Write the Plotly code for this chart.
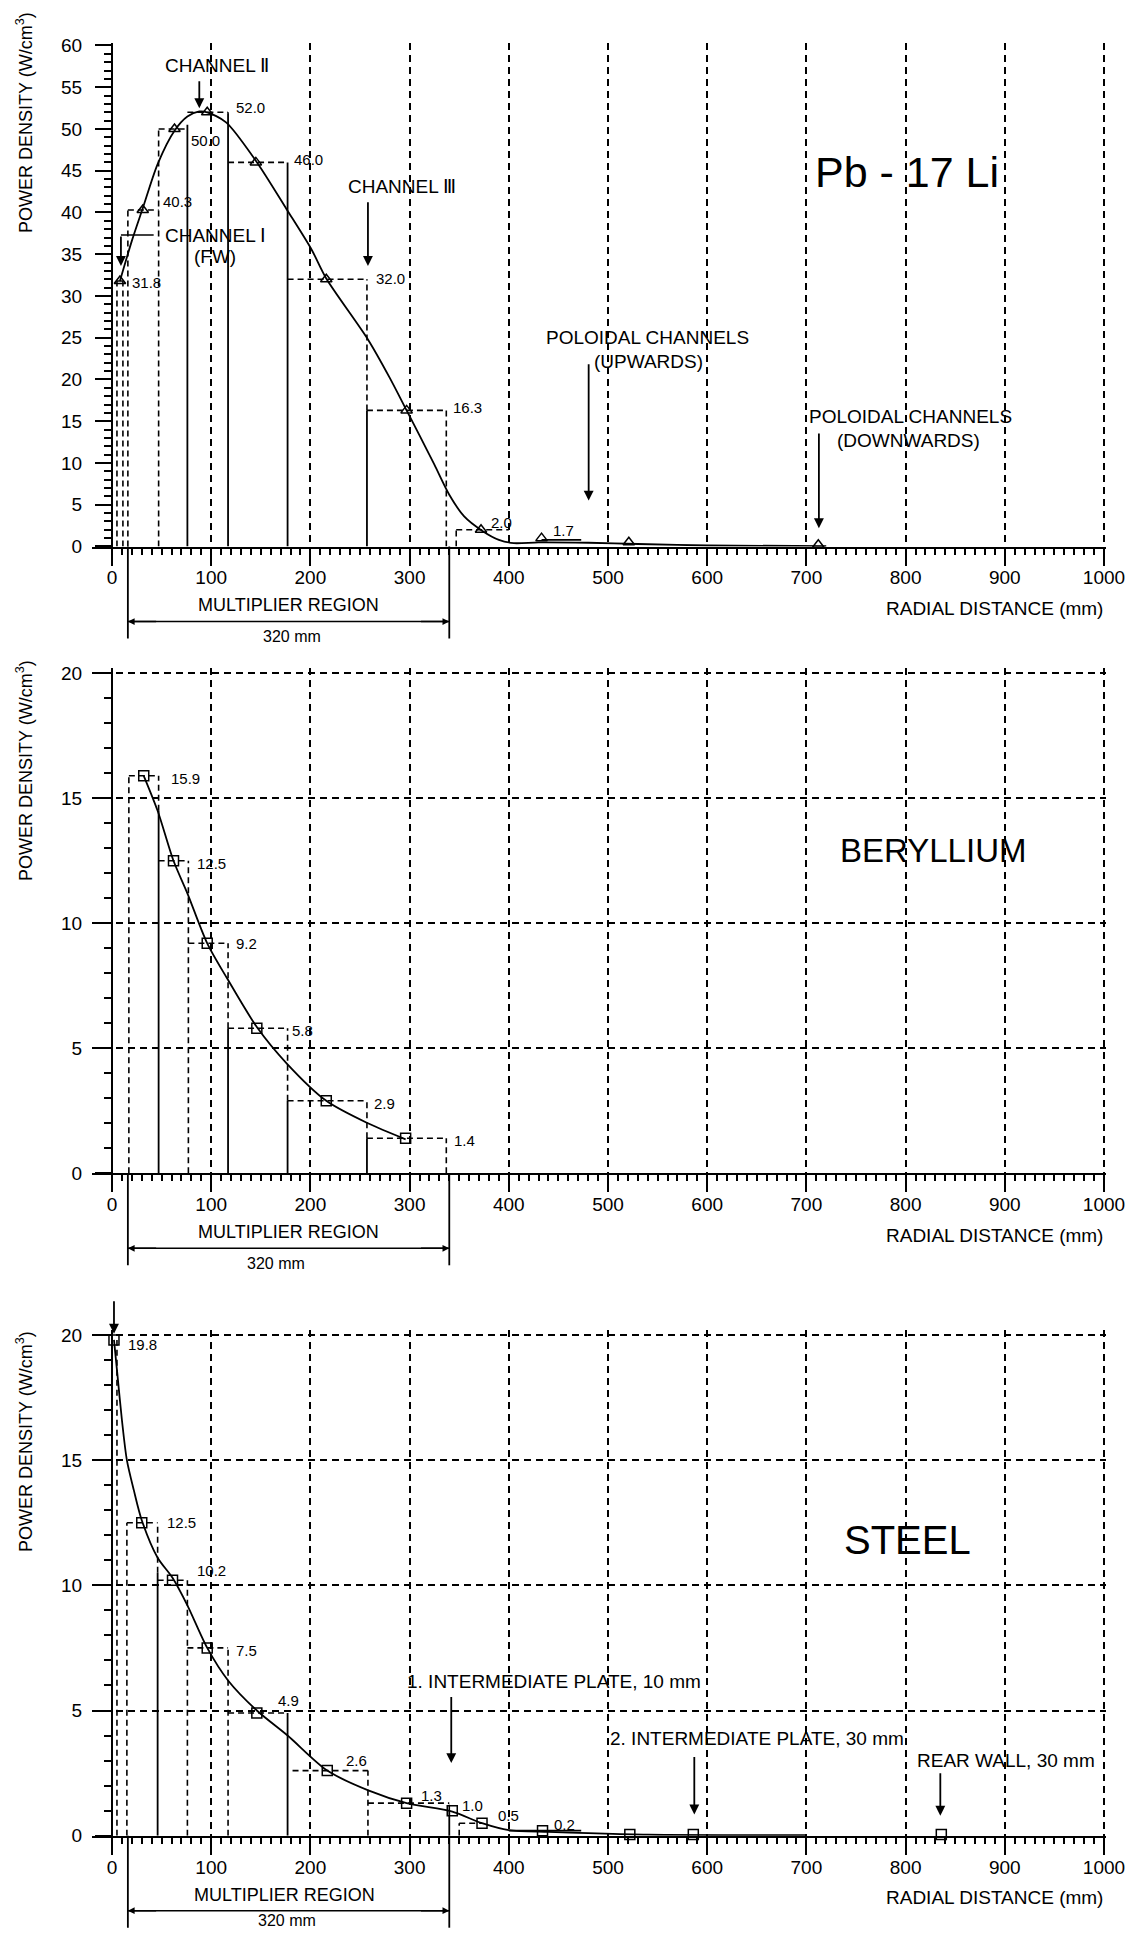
import plotly.graph_objects as go

# ---------------- DATA ----------------
# Panel 1 : Pb-17Li
pb_pts_x = [8, 31, 63, 96, 145, 216, 297, 372, 433, 521, 712]
pb_pts_y = [31.8, 40.3, 50.0, 52.0, 46.0, 32.0, 16.3, 2.0, 1.0, 0.5, 0.2]
pb_curve_x = [8, 20, 31, 46, 63, 76, 88, 96, 115, 145, 176, 201, 216, 258, 280, 297, 310, 325, 340, 355, 373, 390, 405, 430, 480, 530, 600, 720]
pb_curve_y = [31.8, 36.6, 40.5, 45.8, 49.8, 51.5, 52.1, 52.0, 50.8, 46.2, 40.4, 35.6, 32.1, 24.8, 20.2, 16.3, 13.3, 9.8, 6.2, 3.6, 1.9, 0.8, 0.4, 0.5, 0.45, 0.3, 0.12, 0.05]
pb_zone_x0 = [5, 16, 47, 76, 117, 177, 257, 347]
pb_zone_x1 = [11, 47, 76, 117, 177, 257, 337, 400]
pb_zone_val = [31.8, 40.3, 50.0, 52.0, 46.0, 32.0, 16.3, 2.0]
pb_edge_x = [5, 11, 16, 47, 76, 117, 177, 257, 337, 347]
pb_edge_solid = [0, 0, 0, 0, 50.5, 51.8, 46.0, 16.3, 0, 0]
pb_edge_top = [31.8, 31.8, 40.3, 50.0, 50.5, 52.0, 46.0, 32.0, 16.3, 2.0]
pb_plate_x0 = [433]
pb_plate_x1 = [473]
pb_plate_val = [0.8]
pb_lbl_text = ["31.8", "40.3", "50.0", "52.0", "46.0", "32.0", "16.3", "2.0", "1.7"]
pb_lbl_x = [18, 49, 78, 123, 181, 264, 342, 380, 443]
pb_lbl_y = [31.6, 41.3, 48.6, 52.6, 46.3, 32.1, 16.6, 2.9, 1.9]

# Panel 2 : Beryllium
be_pts_x = [32, 62, 96, 146, 216, 296]
be_pts_y = [15.9, 12.5, 9.2, 5.8, 2.9, 1.4]
be_curve_x = [32, 46, 62, 76, 96, 116, 146, 176, 216, 258, 296]
be_curve_y = [15.9, 14.5, 12.5, 11.2, 9.2, 7.8, 5.85, 4.4, 2.9, 2.0, 1.36]
be_zone_x0 = [17, 47, 77, 117, 177, 257]
be_zone_x1 = [47, 77, 117, 177, 257, 337]
be_zone_val = [15.9, 12.5, 9.2, 5.8, 2.9, 1.4]
be_edge_x = [17, 47, 77, 117, 177, 257, 337]
be_edge_solid = [0, 14.5, 0, 5.8, 2.9, 1.4, 0]
be_edge_top = [15.9, 15.9, 12.5, 9.2, 5.8, 2.9, 1.4]
be_lbl_text = ["15.9", "12.5", "9.2", "5.8", "2.9", "1.4"]
be_lbl_x = [57, 84, 123, 179, 262, 343]
be_lbl_y = [15.8, 12.4, 9.2, 5.7, 2.8, 1.3]

# Panel 3 : Steel
st_pts_x = [2, 30, 61, 96, 146, 217, 297, 343, 373, 434, 522, 586, 836]
st_pts_y = [19.8, 12.5, 10.2, 7.5, 4.9, 2.6, 1.3, 1.0, 0.5, 0.2, 0.05, 0.05, 0.05]
st_curve_x = [2, 5, 10, 15, 22, 30, 46, 61, 76, 96, 117, 146, 177, 217, 259, 297, 343, 373, 400, 440, 480, 540, 700]
st_curve_y = [19.8, 18.6, 16.6, 15.0, 13.8, 12.6, 11.1, 10.3, 9.2, 7.5, 6.2, 5.0, 4.0, 2.6, 1.8, 1.3, 0.96, 0.5, 0.22, 0.15, 0.1, 0.04, 0.02]
st_zone_x0 = [15, 46, 76, 117, 182, 258, 350]
st_zone_x1 = [46, 76, 117, 177, 258, 340, 373]
st_zone_val = [12.5, 10.2, 7.5, 4.9, 2.6, 1.3, 0.5]
st_edge_x = [5, 15, 46, 76, 117, 177, 258, 340, 350]
st_edge_solid = [0, 0, 10.5, 0, 0, 4.9, 0, 1.0, 0]
st_edge_top = [19.8, 12.5, 12.5, 10.2, 7.5, 4.9, 2.6, 1.3, 0.5]
st_plate_x0 = [400]
st_plate_x1 = [473]
st_plate_val = [0.2]
st_lbl_text = ["19.8", "12.5", "10.2", "7.5", "4.9", "2.6", "1.3", "1.0", "0.5", "0.2"]
st_lbl_x = [14, 53, 84, 123, 165, 234, 309, 351, 387, 444]
st_lbl_y = [19.6, 12.5, 10.6, 7.4, 5.4, 3.0, 1.6, 1.2, 0.8, 0.45]

x_tick_vals = list(range(0, 1001, 100))
multiplier_region = [16, 340]

# ---------------- LAYOUT GEOMETRY ----------------
W, H = 1129, 1933
X0_PX, PX_PER_MM = 112.0, 0.992
XR = [-20, 1002]
XDOM = [(X0_PX + XR[0] * PX_PER_MM) / W, (X0_PX + XR[1] * PX_PER_MM) / W]
YPOS = X0_PX / W

panels = [
    dict(y0=546.5, ppu=8.35, yr=[0, 60.3], ymax=60),
    dict(y0=1173.3, ppu=25.0, yr=[0, 20.2], ymax=20),
    dict(y0=1835.7, ppu=25.04, yr=[0, 20.2], ymax=20),
]


def ydom(p):
    bottom = p["y0"] - p["yr"][0] * p["ppu"]
    top = p["y0"] - p["yr"][1] * p["ppu"]
    return [1 - bottom / H, 1 - top / H]


def yp(px):
    return 1 - px / H


TXT = "Liberation Sans, Arial, sans-serif"
REG = "Liberation Sans, Arial, sans-serif"
DASH = "6px,4px"
GRIDDASH = "7px,5px"

fig = go.Figure()


def add_panel(xa, ya, curve_x, curve_y, pts_x, pts_y, symbol,
              zx0, zx1, zv, ex, es, et, px0=(), px1=(), pv=()):
    xs, ys = [], []
    for a, b, v in zip(zx0, zx1, zv):
        xs += [a, b, None]
        ys += [v, v, None]
    for e, s, t in zip(ex, es, et):
        if t > s:
            xs += [e, e, None]
            ys += [s, t, None]
    fig.add_trace(go.Scatter(x=xs, y=ys, mode="lines", xaxis=xa, yaxis=ya,
                             line=dict(color="black", width=1.6, dash=DASH),
                             hoverinfo="skip", cliponaxis=False))
    sx, sy = [], []
    for e, s in zip(ex, es):
        if s > 0:
            sx += [e, e, None]
            sy += [0, s, None]
    for a, b, v in zip(px0, px1, pv):
        sx += [a, b, None]
        sy += [v, v, None]
    fig.add_trace(go.Scatter(x=sx, y=sy, mode="lines", xaxis=xa, yaxis=ya,
                             line=dict(color="black", width=1.8),
                             hoverinfo="skip", cliponaxis=False))
    fig.add_trace(go.Scatter(x=curve_x, y=curve_y, mode="lines", xaxis=xa, yaxis=ya,
                             line=dict(color="black", width=1.8, shape="spline", smoothing=0.8),
                             hoverinfo="skip", cliponaxis=False))
    fig.add_trace(go.Scatter(x=pts_x, y=pts_y, mode="markers", xaxis=xa, yaxis=ya,
                             marker=dict(symbol=symbol, size=10, color="black",
                                         line=dict(color="black", width=1.5)),
                             cliponaxis=False))


add_panel("x", "y", pb_curve_x, pb_curve_y, pb_pts_x, pb_pts_y, "triangle-up-open",
          pb_zone_x0, pb_zone_x1, pb_zone_val, pb_edge_x, pb_edge_solid, pb_edge_top,
          pb_plate_x0, pb_plate_x1, pb_plate_val)
add_panel("x2", "y2", be_curve_x, be_curve_y, be_pts_x, be_pts_y, "square-open",
          be_zone_x0, be_zone_x1, be_zone_val, be_edge_x, be_edge_solid, be_edge_top)
add_panel("x3", "y3", st_curve_x, st_curve_y, st_pts_x, st_pts_y, "square-open",
          st_zone_x0, st_zone_x1, st_zone_val, st_edge_x, st_edge_solid, st_edge_top,
          st_plate_x0, st_plate_x1, st_plate_val)

# Channel I leader line (horizontal part)
fig.add_trace(go.Scatter(x=[42, 9], y=[37.3, 37.3], mode="lines", xaxis="x", yaxis="y",
                         line=dict(color="black", width=1.6), hoverinfo="skip"))

annotations = []


def txt(xa, ya, x, y, s, size=19, family=TXT, xanchor="center"):
    annotations.append(dict(x=x, y=y, xref=xa, yref=ya, text=s, showarrow=False,
                            xanchor=xanchor, yanchor="middle",
                            font=dict(family=family, size=size, color="black")))


def arrow(xa, ya, x, yhead, ytail):
    annotations.append(dict(x=x, y=yhead, ax=x, ay=ytail, xref=xa, yref=ya,
                            axref=xa, ayref=ya, text="", showarrow=True,
                            arrowhead=2, arrowsize=1.1, arrowwidth=1.8, arrowcolor="black"))


# value labels
for xa, ya, tl, xl, yl in [("x", "y", pb_lbl_text, pb_lbl_x, pb_lbl_y),
                           ("x2", "y2", be_lbl_text, be_lbl_x, be_lbl_y),
                           ("x3", "y3", st_lbl_text, st_lbl_x, st_lbl_y)]:
    for t, x, y in zip(tl, xl, yl):
        txt(xa, ya, x, y, t, size=15, family=REG, xanchor="left")

# top panel texts
txt("x", "y", 106, 57.6, "CHANNEL Ⅱ")
arrow("x", "y", 88, 52.5, 55.9)
txt("x", "y", 292, 43.1, "CHANNEL Ⅲ")
arrow("x", "y", 258, 33.6, 41.4)
txt("x", "y", 104, 37.3, "CHANNEL Ⅰ")
txt("x", "y", 104, 34.7, "(FW)")
arrow("x", "y", 9, 33.6, 37.3)
txt("x", "y", 801, 44.8, "Pb - 17 Li", size=43)
txt("x", "y", 540, 25.0, "POLOIDAL CHANNELS")
txt("x", "y", 541, 22.1, "(UPWARDS)")
arrow("x", "y", 480.5, 5.5, 22.0)
txt("x", "y", 805, 15.6, "POLOIDAL CHANNELS")
txt("x", "y", 803, 12.7, "(DOWNWARDS)")
arrow("x", "y", 712.6, 2.2, 13.7)

# middle panel
txt("x2", "y2", 828, 12.9, "BERYLLIUM", size=33)

# bottom panel
txt("x3", "y3", 802, 11.8, "STEEL", size=40)
txt("x3", "y3", 446, 6.15, "1. INTERMEDIATE PLATE, 10 mm")
arrow("x3", "y3", 342, 2.9, 5.6)
txt("x3", "y3", 650, 3.9, "2. INTERMEDIATE PLATE, 30 mm")
arrow("x3", "y3", 587, 0.85, 3.2)
txt("x3", "y3", 901, 3.0, "REAR WALL, 30 mm")
arrow("x3", "y3", 835, 0.8, 2.55)
arrow("x3", "y3", 2, 20.05, 21.4)

shapes = []
title_centers = [123, 771, 1442]
mr_x = [178, 178, 174]
mm_x = [181, 165, 176]
mm_off = [90, 90, 85]
for i, p in enumerate(panels):
    xa = "x" if i == 0 else "x%d" % (i + 1)
    ax_px = p["y0"]
    # y-axis title
    annotations.append(dict(x=24 / W, y=yp(title_centers[i]), xref="paper", yref="paper",
                            text="POWER DENSITY (W/cm<sup>3</sup>)", showarrow=False,
                            textangle=-90, xanchor="center", yanchor="middle",
                            font=dict(family=REG, size=18, color="black")))
    # bracket of the multiplier region
    for xv in multiplier_region:
        shapes.append(dict(type="line", xref=xa, yref="paper", x0=xv, x1=xv,
                           y0=yp(ax_px), y1=yp(ax_px + 92),
                           line=dict(color="black", width=1.8)))
    shapes.append(dict(type="line", xref=xa, yref="paper",
                       x0=multiplier_region[0], x1=multiplier_region[1],
                       y0=yp(ax_px + 75), y1=yp(ax_px + 75),
                       line=dict(color="black", width=1.5)))
    for head, tail in [(multiplier_region[0], multiplier_region[0] + 30),
                       (multiplier_region[1], multiplier_region[1] - 30)]:
        annotations.append(dict(x=head, y=yp(ax_px + 75), xref=xa, yref="paper",
                                ax=tail, ay=0, axref=xa, ayref="pixel", text="",
                                showarrow=True, arrowhead=2, arrowsize=0.9,
                                arrowwidth=1.5, arrowcolor="black"))
    annotations.append(dict(x=mr_x[i], y=yp(ax_px + 59), xref=xa, yref="paper",
                            text="MULTIPLIER REGION", showarrow=False,
                            xanchor="center", yanchor="middle",
                            font=dict(family=TXT, size=18, color="black")))
    annotations.append(dict(x=mm_x[i], y=yp(ax_px + mm_off[i]), xref=xa, yref="paper",
                            text="320 mm", showarrow=False, xanchor="center",
                            yanchor="middle", font=dict(family=TXT, size=16, color="black")))
    annotations.append(dict(x=1001, y=yp(ax_px + 62), xref=xa, yref="paper",
                            text="RADIAL DISTANCE (mm)", showarrow=False, xanchor="right",
                            yanchor="middle", font=dict(family=TXT, size=19, color="black")))

xaxis_common = dict(
    domain=XDOM, range=XR, tickmode="array", tickvals=x_tick_vals,
    ticks="outside", ticklen=17, tickwidth=2, tickcolor="black",
    minor=dict(tickmode="array", tickvals=list(range(0, 1001, 10)), ticks="outside",
               ticklen=6, tickwidth=1.5, tickcolor="black", showgrid=False),
    showline=True, linecolor="black", linewidth=2,
    showgrid=True, gridcolor="black", gridwidth=1.6, griddash=GRIDDASH,
    zeroline=False, ticklabelstandoff=-4, automargin=False,
    tickfont=dict(family=REG, size=19, color="black"), fixedrange=True,
)


def yaxis_conf(p, labels_step, grid):
    return dict(
        domain=ydom(p), range=p["yr"], anchor="free", position=YPOS,
        tickmode="array", tickvals=list(range(0, p["ymax"] + 1, labels_step)),
        ticks="outside", ticklen=16, tickwidth=2, tickcolor="black",
        minor=dict(tickmode="array", tickvals=list(range(0, p["ymax"] + 1, 1)),
                   ticks="outside", ticklen=7, tickwidth=1.5, tickcolor="black", showgrid=False),
        showline=True, linecolor="black", linewidth=2,
        showgrid=grid, gridcolor="black", gridwidth=1.6, griddash=GRIDDASH,
        zeroline=False, ticklabelstandoff=9, automargin=False,
        tickfont=dict(family=REG, size=19, color="black"), fixedrange=True,
    )


fig.update_layout(
    width=W, height=H, autosize=False,
    margin=dict(l=0, r=0, t=0, b=0, pad=0, autoexpand=False),
    paper_bgcolor="white", plot_bgcolor="white", showlegend=False,
    xaxis=dict(xaxis_common, anchor="y"),
    xaxis2=dict(xaxis_common, anchor="y2"),
    xaxis3=dict(xaxis_common, anchor="y3"),
    yaxis=yaxis_conf(panels[0], 5, False),
    yaxis2=yaxis_conf(panels[1], 5, True),
    yaxis3=yaxis_conf(panels[2], 5, True),
    yaxis4=dict(overlaying="y", range=panels[0]["yr"], anchor="x",
                tickmode="array", tickvals=list(range(10, 61, 10)),
                showticklabels=False, ticks="", showline=False, zeroline=False,
                showgrid=True, gridcolor="black", gridwidth=1.6, griddash=GRIDDASH,
                fixedrange=True),
    annotations=annotations,
    shapes=shapes,
)

fig.write_html("out.html")
